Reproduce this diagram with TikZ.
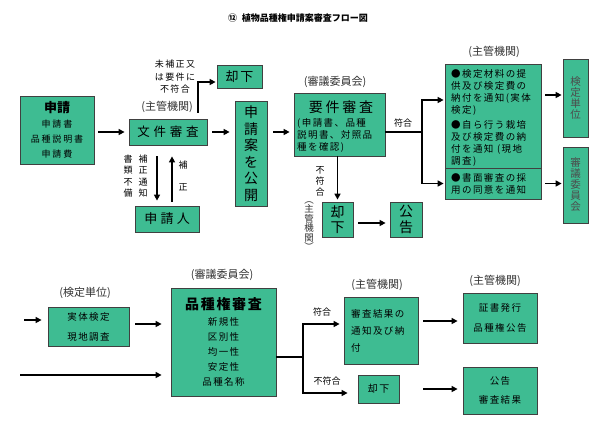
\documentclass[tikz,border=0pt]{standalone}
\usepackage{fontspec}
\setmainfont{Noto Sans CJK JP}
\usetikzlibrary{arrows.meta}
\definecolor{boxgreen}{RGB}{62,188,146}
\newcommand\lsp[1]{\addfontfeature{LetterSpace=#1}}
\newcommand\fs[2]{\fontsize{#1}{#2}\selectfont}
\begin{document}
\begin{tikzpicture}[x=1pt,y=-1pt,
  box/.style={draw=black!75, line width=0.8pt, fill=boxgreen, inner sep=0pt, align=center},
  arr/.style={line width=1.6pt, -{Triangle[length=6pt,width=6pt]}},
  ln/.style={line width=1.6pt},
  lbl/.style={inner sep=0pt, align=center},
  gl/.style={inner sep=0pt, text=black!80, font=\fs{11}{12}}]
\useasboundingbox (0,0) rectangle (600,426);
\fill[white] (0,0) rectangle (600,426);

\node[lbl, font=\fs{9}{10}\bfseries] (title) at (298,18) {⑫\hspace{5pt}植物品種権申請案審査フロー図};

% ---------- upper flow ----------
\node[box, minimum width=74pt, minimum height=68pt, font=\fs{9}{15}] (shinsei) at (57,130)
  {{\fs{13}{15}\bfseries 申請}\\{\lsp{20}申請書}\\{\lsp{20}品種説明書}\\{\lsp{20}申請費}};
\node[box, minimum width=78pt, minimum height=26pt, font=\fs{12.5}{15}\lsp{30}] (bunken) at (168,132) {文件審査};
\node[gl] (shukan1) at (167,107) {(主管機関)};
\node[box, minimum width=45pt, minimum height=23pt, font=\fs{13}{15}\lsp{15}] (kyakka1) at (239.5,76.5) {却下};
\node[lbl, font=\fs{9}{12.5}\lsp{15}] (mihosei) at (175,77) {未補正又\\は要件に\\不符合};
\node[box, minimum width=32pt, minimum height=105pt, font=\fs{14}{16.5}] (koukai) at (251,153.5) {申\\請\\案\\を\\公\\開};
\node[box, minimum width=64pt, minimum height=26pt, font=\fs{13}{15}\lsp{25}] (shinseinin) at (167,219) {申請人};
\node[lbl, font=\fs{9}{11.5}] (hosei1) at (143,176) {補\\正\\通\\知};
\node[lbl, font=\fs{9}{11.5}] (shorui) at (128,176) {書\\類\\不\\備};
\node[lbl, font=\fs{9}{11}] (hosei2a) at (183,165) {補};
\node[lbl, font=\fs{9}{11}] (hosei2b) at (183,187) {正};

\node[gl] (shingi1) at (335,82) {(審議委員会)};
\node[box, minimum width=91pt, minimum height=63pt] (yoken) at (339.5,124.5) {};
\node[lbl, font=\fs{14}{16}\lsp{20}] (yokent) at (341,107) {要件審査};
\node[lbl, anchor=north west, align=left, font=\fs{9.5}{12}\lsp{15}] (yokenl) at (297,118)
  {(申請書、品種\\説明書、対照品\\種を確認)};
\node[lbl, font=\fs{9}{10}] (fugo1) at (403,123) {符合};
\coordinate (br1) at (422,132);

\node[gl] (shukan2) at (494,52) {(主管機関)};
\node[box, minimum width=96pt, minimum height=104pt] (bigtop) at (493,116) {};
\node[box, minimum width=96pt, minimum height=31pt] (bigbot) at (493,183.5) {};
\node[lbl, anchor=north west, align=left, font=\fs{9.5}{12}\lsp{15}] (bigtopt) at (451,69)
  {●検定材料の提\\供及び検定費の\\納付を通知(実体\\検定)\\[3pt]●自ら行う栽培\\及び検定費の納\\付を通知 (現地\\調査)};
\node[lbl, anchor=north west, align=left, font=\fs{9.5}{12}\lsp{15}] (bigbott) at (451,173)
  {●書面審査の採\\用の同意を通知};
\node[box, minimum width=25pt, minimum height=78pt, font=\fs{10.5}{11}, text=black!70] (kentei) at (575.5,98) {検\\定\\単\\位};
\node[box, minimum width=25pt, minimum height=76pt, font=\fs{10.5}{11}, text=black!70] (shingib) at (575.5,185) {審\\議\\委\\員\\会};

\node[lbl, font=\fs{9}{11}] (fufugo1) at (320,181) {不\\符\\合};
\node[lbl, font=\fs{9.5}{9.5}, text=black!80] (shukanv) at (309,226) {︵\\主\\管\\機\\関\\︶};
\node[box, minimum width=31pt, minimum height=35pt, font=\fs{14}{15.5}] (kyakka2) at (337.5,219.5) {却\\下};
\node[box, minimum width=32pt, minimum height=35pt, font=\fs{14}{15.5}] (kokoku1) at (406,219.5) {公\\告};

% ---------- lower flow ----------
\node[gl] (shingi2) at (222,275) {(審議委員会)};
\node[gl] (kentei2) at (85,293) {(検定単位)};
\node[box, minimum width=81pt, minimum height=39pt, font=\fs{9.5}{20}\lsp{15}] (jittai) at (88.5,326.5) {実体検定\\現地調査};
\node[box, minimum width=105pt, minimum height=108pt, font=\fs{9.5}{15}\lsp{15}] (hinshu) at (223.5,342)
  {{\fs{14}{16}\bfseries\lsp{12}品種権審査}\\[1pt]新規性\\区別性\\均一性\\安定性\\品種名称};
\coordinate (br2) at (303,357);
\node[lbl, font=\fs{9}{10}] (fugo2) at (322,312) {符合};
\node[lbl, font=\fs{9}{10}] (fufugo2) at (327,381) {不符合};
\node[gl] (shukan3) at (377,285) {(主管機関)};
\node[box, minimum width=74pt, minimum height=67pt] (kekka) at (381,330.5) {};
\node[lbl, anchor=north west, align=left, font=\fs{9.5}{17}\lsp{15}] (kekkat) at (351,309)
  {審査結果の\\通知及び納\\付};
\node[box, minimum width=41pt, minimum height=28pt, font=\fs{10}{12}\lsp{15}] (kyakka3) at (378.5,389) {却下};
\node[gl] (shukan4) at (495,281) {(主管機関)};
\node[box, minimum width=74pt, minimum height=50pt, font=\fs{9.5}{20}\lsp{15}] (shosho) at (500,318) {証書発行\\品種権公告};
\node[box, minimum width=74pt, minimum height=47pt, font=\fs{9.5}{19}\lsp{15}] (kokoku2) at (500,390.5) {公告\\審査結果};

% ---------- connectors (upper) ----------
\draw[arr, shorten <=4pt, shorten >=4pt] (shinsei.east |- bunken) -- (bunken.west);
\draw[arr, shorten <=6pt, shorten >=1pt] ([xshift=30pt]bunken.north) |- ([yshift=-5.5pt]kyakka1.west);
\draw[arr, shorten <=5pt, shorten >=5pt] (bunken.east) -- (bunken.east -| koukai.west);
\draw[arr, shorten <=11pt, shorten >=5pt] ([xshift=-11pt]bunken.south) -- ([xshift=-10pt]shinseinin.north);
\draw[arr, shorten <=4pt, shorten >=11pt] ([xshift=5pt]shinseinin.north) -- ([xshift=4pt]bunken.south);
\draw[arr, shorten <=6pt, shorten >=4pt] (koukai.east |- bunken) -- (yoken.west |- bunken);
\draw[ln] (yoken.east |- br1) -- (br1);
\draw[arr, shorten >=1pt] (br1) |- ([yshift=16pt]bigtop.west);
\draw[arr, shorten >=1pt] (br1) |- (bigbot.west);
\path ([yshift=3pt]kentei.west) coordinate (kin);
\draw[arr, shorten <=4pt, shorten >=1pt] (bigtop.east |- kin) -- (kin);
\draw[arr, shorten <=4pt, shorten >=1pt] (bigbot.east) -- (bigbot.east -| shingib.west);
\draw[arr, shorten >=2pt] (yoken.south -| kyakka2) -- (kyakka2.north);
\draw[arr, shorten <=5pt, shorten >=4pt] ([yshift=-3.5pt]kyakka2.east) -- ([yshift=-3.5pt]kokoku1.west);

% ---------- connectors (lower) ----------
\coordinate (in1) at (24,320);
\draw[arr, shorten >=6pt] (in1) -- (in1 -| jittai.west);
\draw[arr, shorten <=6pt, shorten >=9pt] ([yshift=2.5pt]jittai.east) -- ([yshift=2.5pt]jittai.east -| hinshu.west);
\coordinate (in2) at (20,375);
\draw[arr, shorten >=9pt] (in2) -- (in2 -| hinshu.west);
\draw[ln] (hinshu.east |- br2) -- (br2);
\draw[arr, shorten >=4pt] (br2) |- ([yshift=6.5pt]kekka.west);
\draw[arr, shorten >=10pt] (br2) |- ([yshift=-4pt]kyakka3.west);
\path ([yshift=-3pt]shosho.west) coordinate (sin);
\draw[arr, shorten <=5pt, shorten >=5pt] (kekka.east |- sin) -- (sin);
\draw[arr, shorten <=24pt, shorten >=5pt] (kyakka3.east) -- (kyakka3.east -| kokoku2.west);
\end{tikzpicture}
\end{document}
